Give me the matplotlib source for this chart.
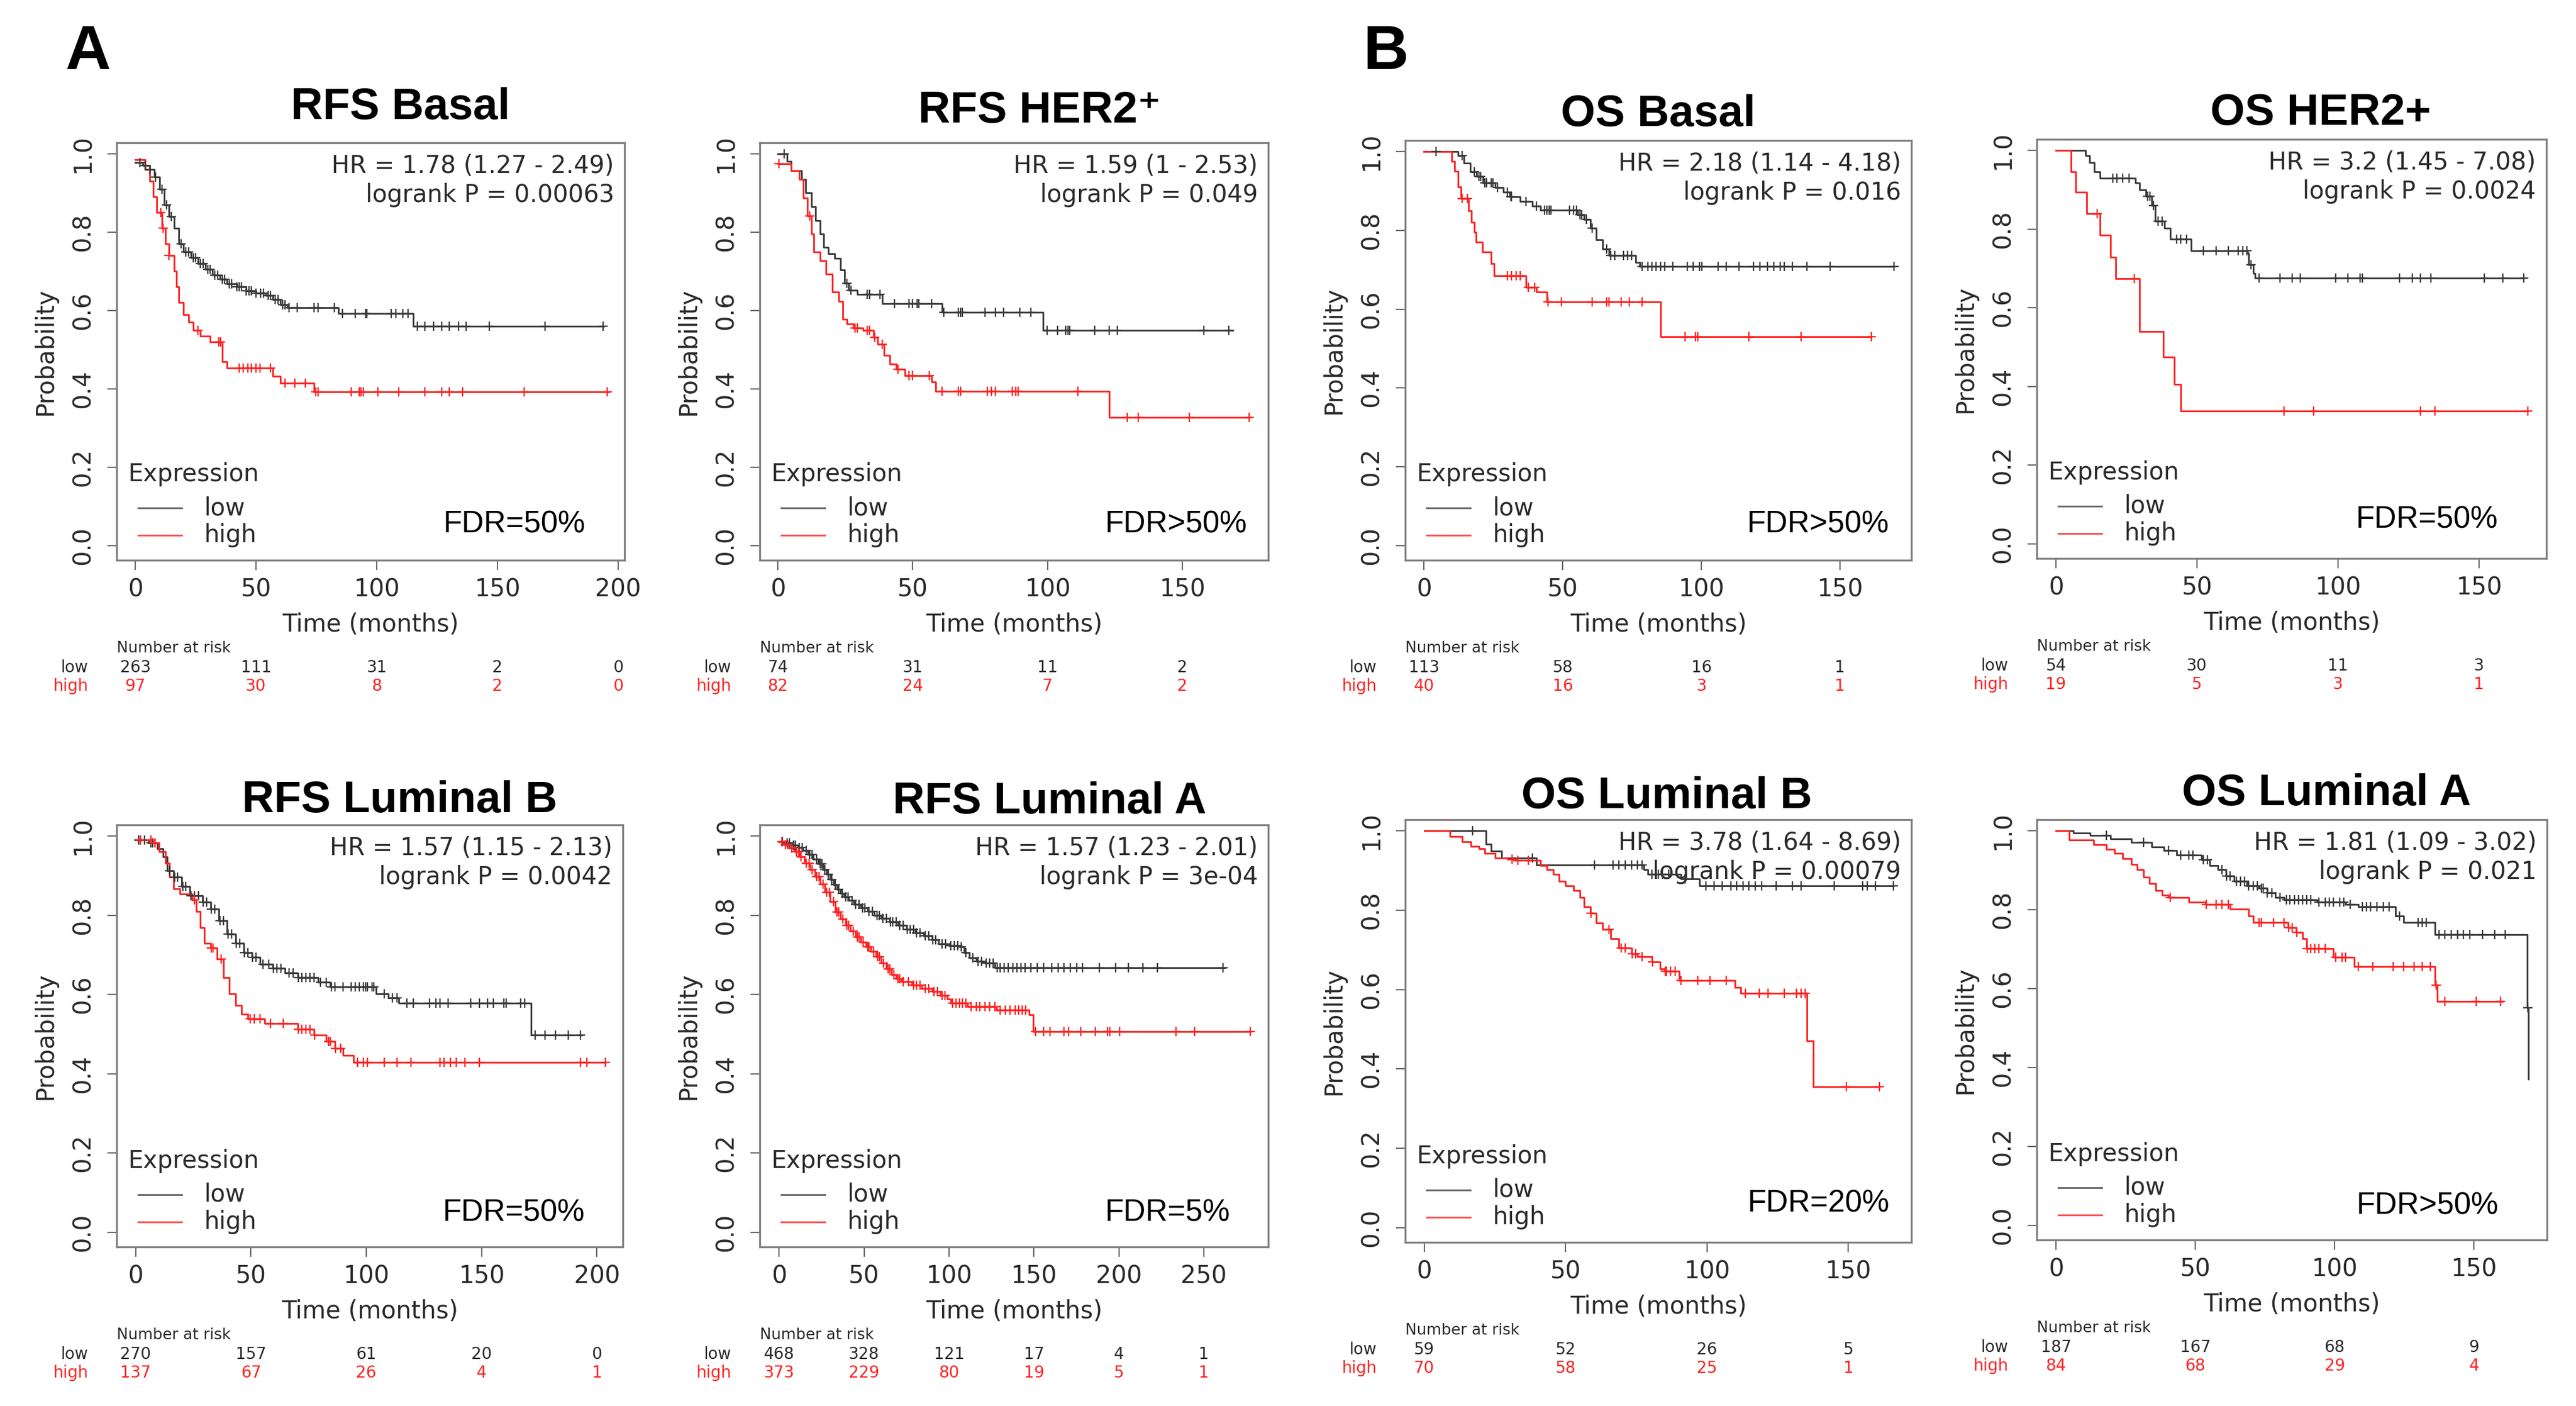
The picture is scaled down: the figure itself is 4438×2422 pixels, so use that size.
import numpy as np
import matplotlib
matplotlib.use("Agg")
import matplotlib.pyplot as plt
from matplotlib.transforms import offset_copy
from matplotlib.lines import Line2D

# ======================= DATA =======================
# ---- Panel 1: RFS Basal ----
RFS_BASAL_LOW_T = [0, 3, 6, 8, 10, 12, 14, 16, 18, 20, 23, 26, 29, 32, 35, 38, 42, 46, 50, 54, 57, 60, 63, 84, 115]
RFS_BASAL_LOW_S = [0.977, 0.97, 0.96, 0.94, 0.91, 0.87, 0.84, 0.81, 0.77, 0.75, 0.735, 0.72, 0.705, 0.69, 0.68,
                   0.668, 0.66, 0.65, 0.645, 0.638, 0.628, 0.615, 0.607, 0.592, 0.56]
RFS_BASAL_LOW_END = 194
RFS_BASAL_LOW_CENS = [2, 4, 6, 8.5, 11, 13, 15, 19, 21, 22, 24, 25, 27, 28, 30, 31, 33, 34, 36, 37, 39, 40, 42, 43,
                      44, 46, 47, 48, 50, 52, 53, 55, 56, 58, 59, 61, 62, 63.6, 67, 73.9, 75.6, 82.5, 85.9, 91, 95.3,
                      96, 106, 108, 110.7, 113, 116.7, 120, 123.5, 127, 130, 133.8, 137, 146.6, 169.7, 193.7]
RFS_BASAL_HIGH_T = [0, 4, 6, 7.5, 9, 11, 12.5, 14, 16, 17, 18, 20, 22, 24, 27, 31, 36, 38, 57, 60, 74]
RFS_BASAL_HIGH_S = [0.985, 0.96, 0.93, 0.89, 0.85, 0.81, 0.77, 0.74, 0.70, 0.66, 0.62, 0.59, 0.57, 0.55, 0.535,
                    0.52, 0.47, 0.453, 0.432, 0.415, 0.392]
RFS_BASAL_HIGH_END = 196
RFS_BASAL_HIGH_CENS = [10.6, 11.5, 14, 26, 34.6, 35.4, 43, 44.8, 46.5, 48, 50, 51.7, 56, 62, 66, 70.5, 74.8, 75.6,
                       89.3, 92.7, 93.6, 94.4, 100.4, 109, 120, 127, 130, 135.5, 161, 195.4]

# ---- Panel 2: RFS HER2+ ----
RFS_HER2_LOW_T = [0, 3.4, 4.9, 8.7, 10.3, 12.5, 14, 15.6, 17, 18.7, 21, 23.3, 24.8, 26.3, 29.4, 38.6, 60.8, 98.3]
RFS_HER2_LOW_S = [1.0, 0.98, 0.957, 0.934, 0.90, 0.865, 0.83, 0.796, 0.762, 0.745, 0.733, 0.704, 0.67, 0.652,
                  0.641, 0.618, 0.595, 0.549]
RFS_HER2_LOW_END = 168.7
RFS_HER2_LOW_CENS = [2.3, 25.6, 27.1, 33.2, 34, 37.8, 43.2, 48.5, 50, 51.6, 52.3, 57, 61.5, 66.9, 67.7, 68.4, 76.8,
                     80.7, 83.7, 89.8, 93.7, 99.8, 103.6, 106.7, 107.5, 108.2, 117.4, 122.8, 125.8, 158, 167.2]
RFS_HER2_HIGH_T = [0, 4.9, 8, 9.5, 11, 12.5, 13.3, 15.6, 17.9, 20.2, 22.5, 24, 25.6, 27.9, 31.7, 35.5, 37, 39.3,
                   41.6, 43.9, 47, 57, 58.5, 122.8]
RFS_HER2_HIGH_S = [0.975, 0.957, 0.934, 0.888, 0.842, 0.796, 0.75, 0.727, 0.693, 0.647, 0.624, 0.578, 0.566, 0.555,
                   0.549, 0.532, 0.514, 0.486, 0.463, 0.451, 0.434, 0.417, 0.394, 0.327]
RFS_HER2_HIGH_END = 174.8
RFS_HER2_HIGH_CENS = [0.5, 11.8, 28.5, 29.4, 33.2, 34, 35.8, 38.6, 44.5, 48.5, 50, 56.2, 60.8, 66.9, 67.7, 77.6,
                      79.1, 80.7, 86.8, 88.3, 89.1, 111.3, 129.6, 133.5, 152.6, 174.8]

# ---- Panel 3: OS Basal ----
OS_BASAL_LOW_T = [0, 12.2, 14.4, 16.7, 18.9, 21.2, 25.6, 28.6, 30.8, 34.6, 39, 42, 55.4, 57.6, 59.9, 62, 64.4,
                  66.6, 76.3, 77.8]
OS_BASAL_LOW_S = [1.0, 0.989, 0.971, 0.948, 0.937, 0.92, 0.908, 0.897, 0.885, 0.874, 0.862, 0.851, 0.839, 0.828,
                  0.805, 0.776, 0.753, 0.736, 0.719, 0.708]
OS_BASAL_LOW_END = 169.4
OS_BASAL_LOW_CENS = [4.3, 13.7, 18.2, 19.7, 20.4, 21.9, 22.6, 24.1, 24.9, 26.4, 30.1, 31.2, 31.6, 36.8, 40.5, 43.5,
                     44.2, 45, 45.7, 52.4, 53.9, 55.0, 56.2, 56.9, 58.4, 60.6, 65.8, 67.3, 68.8, 71.8, 73.3, 74.8,
                     78.5, 80.7, 82.2, 83.7, 85.2, 86.7, 89.7, 94.9, 97.1, 99.4, 100.1, 106.1, 109, 113.5, 118.7,
                     121, 123.9, 126.2, 128.4, 129.9, 132.9, 138.1, 146.3, 169.4]
OS_BASAL_HIGH_T = [0, 10, 11, 12.2, 13.2, 16, 17, 18.2, 18.8, 21, 24.2, 25.3, 36.8, 40.5, 44.2, 85.2]
OS_BASAL_HIGH_S = [1.0, 0.975, 0.95, 0.91, 0.88, 0.85, 0.82, 0.795, 0.77, 0.745, 0.715, 0.685, 0.656, 0.643,
                   0.618, 0.53]
OS_BASAL_HIGH_END = 161.2
OS_BASAL_HIGH_CENS = [13.7, 15.5, 30.1, 31.6, 33.1, 34.6, 37.5, 39.8, 44.7, 49.5, 60.6, 65.8, 66.6, 71, 74, 78.5,
                      94.1, 97.9, 98.6, 117.2, 135.9, 161.2]

# ---- Panel 4: OS HER2+ ----
OS_HER2_LOW_T = [0, 10.5, 12, 13.5, 15.7, 28.1, 29.6, 31.8, 34, 35.2, 38.4, 40.6, 47.9, 67.9, 68.4, 69.9, 70.6]
OS_HER2_LOW_S = [1.0, 0.986, 0.969, 0.946, 0.929, 0.917, 0.9, 0.883, 0.86, 0.82, 0.802, 0.774, 0.745, 0.739,
                 0.71, 0.687, 0.676]
OS_HER2_LOW_END = 165.8
OS_HER2_LOW_CENS = [20.1, 21.5, 23.7, 25.9, 32.5, 33.3, 34.5, 36.2, 37.6, 42.8, 44.2, 46.4, 52.3, 56.7, 61.1, 64.7,
                    66.2, 67.7, 69.1, 72.1, 79.4, 83.8, 86.7, 99.2, 103.6, 107.9, 108.7, 121.9, 126.3, 129.2, 132.9,
                    151.9, 158.5, 165.8]
OS_HER2_HIGH_T = [0, 5.4, 6.9, 10.8, 15.7, 19.3, 21.1, 29.6, 38.1, 42, 44.2]
OS_HER2_HIGH_S = [1.0, 0.946, 0.894, 0.839, 0.785, 0.728, 0.674, 0.54, 0.475, 0.406, 0.337]
OS_HER2_HIGH_END = 167.3
OS_HER2_HIGH_CENS = [14.6, 27.8, 80.9, 91.4, 129.2, 134.3, 167.3]

# ---- Panel 5: RFS Luminal B ----
RFS_LUMB_LOW_T = [0, 5.7, 9.3, 12, 13.8, 16.5, 20, 23.6, 29, 32.6, 36.2, 39.7, 43.3, 46.9, 50.5, 54, 59.4, 64.8,
                  70.2, 79.1, 84.5, 104.2, 109.6, 114, 171.4]
RFS_LUMB_LOW_S = [0.99, 0.983, 0.968, 0.948, 0.913, 0.896, 0.873, 0.85, 0.833, 0.815, 0.787, 0.752, 0.729, 0.706,
                  0.694, 0.677, 0.666, 0.654, 0.642, 0.631, 0.619, 0.602, 0.591, 0.579, 0.498]
RFS_LUMB_LOW_END = 193.7
RFS_LUMB_LOW_CENS = [1.3, 3.9, 6.6, 7.5, 8.4, 14.7, 16.9, 18.3, 20.5, 21.8, 23.9, 25.4, 27.2, 29.4, 30.8, 32.9,
                     34.4, 36.6, 38, 40.1, 41.5, 43.6, 45.1, 47.2, 48.7, 50.8, 52.3, 55.3, 57.7, 59.8, 61.2, 63, 66.6,
                     68.4, 70.5, 72, 73.8, 75.6, 77.3, 80, 82.7, 84.8, 86.3, 89.9, 93.5, 95.3, 97, 98.8, 99.7, 100.6,
                     102.4, 103.3, 107.8, 111.4, 113.2, 117.6, 120.3, 127.5, 130.2, 132, 135.5, 145.4, 149, 152.6,
                     155.2, 159.7, 160.6, 166.9, 168.7, 173.1, 177.6, 182.1, 187.5, 192.8]
RFS_LUMB_HIGH_T = [0, 7.5, 10.2, 12.9, 14.7, 16.5, 19.2, 24.5, 26.3, 28.1, 29.9, 32.6, 35.3, 38, 40.6, 43.3, 46,
                   48.7, 55.9, 70.2, 77.3, 82.7, 86.3, 89.9, 94.4]
RFS_LUMB_HIGH_S = [0.99, 0.983, 0.96, 0.931, 0.896, 0.867, 0.854, 0.839, 0.81, 0.769, 0.729, 0.717, 0.689, 0.642,
                   0.602, 0.573, 0.55, 0.539, 0.527, 0.512, 0.498, 0.481, 0.464, 0.446, 0.429]
RFS_LUMB_HIGH_END = 203.6
RFS_LUMB_HIGH_CENS = [2.1, 6.6, 8.4, 25.4, 32.9, 33.5, 37.1, 49.6, 51.4, 54, 58.5, 63.9, 70.5, 72, 73.8, 75.6, 77.6,
                      83.6, 84.5, 86.6, 89, 96.1, 98.8, 100.6, 107.8, 113.2, 119.4, 132, 133.8, 136.4, 139.1, 142.7,
                      149, 192.8, 195.5, 203.6]

# ---- Panel 6: RFS Luminal A ----
RFS_LUMA_LOW_T = [0, 4, 8, 11, 14, 17, 20, 23, 26, 28, 30, 32, 34, 36, 38, 41, 44, 48, 52, 56, 60, 65, 70, 75, 80,
                  85, 90, 94, 100, 106, 109, 112, 116, 121, 127]
RFS_LUMA_LOW_S = [0.985, 0.982, 0.977, 0.971, 0.963, 0.953, 0.942, 0.93, 0.915, 0.903, 0.89, 0.877, 0.865, 0.855,
                  0.846, 0.837, 0.828, 0.818, 0.81, 0.8, 0.792, 0.783, 0.774, 0.765, 0.756, 0.748, 0.738, 0.727,
                  0.724, 0.72, 0.706, 0.692, 0.684, 0.679, 0.667]
RFS_LUMA_LOW_END = 262.6
RFS_LUMA_LOW_CENS = [2, 4.5, 6, 8.5, 9.5, 12, 13.5, 16, 18, 19.5, 22, 24, 25, 27, 29, 31, 33, 35, 37, 39, 40.5, 43,
                     45, 47, 49, 50.5, 53, 55, 57.5, 59, 61, 63, 65.5, 67, 69, 71, 73, 75.5, 77, 79, 81, 83, 86, 88,
                     90.5, 92, 96, 98, 101, 103, 105, 107, 110, 114, 117, 119, 122, 124, 126, 128.5, 130.1, 132.5,
                     135, 137.4, 139.8, 142.3, 144.7, 148.3, 152, 155.6, 160.5, 164.2, 167.8, 171.4, 175.1, 178.7,
                     188.5, 198.2, 205.5, 214, 222.5, 261.4]
RFS_LUMA_HIGH_T = [0, 3, 6, 9, 12, 15, 18, 21, 24, 27, 30, 33, 36, 39, 42, 45, 48, 51, 54, 57, 60, 63, 66, 69, 72,
                   78, 84, 90, 95, 99, 101, 111, 128, 147, 149.6]
RFS_LUMA_HIGH_S = [0.985, 0.978, 0.97, 0.96, 0.947, 0.932, 0.915, 0.897, 0.878, 0.858, 0.835, 0.808, 0.79, 0.775,
                   0.76, 0.745, 0.732, 0.72, 0.708, 0.695, 0.68, 0.665, 0.65, 0.64, 0.632, 0.623, 0.615, 0.607,
                   0.598, 0.588, 0.578, 0.57, 0.56, 0.549, 0.506]
RFS_LUMA_HIGH_END = 277.2
RFS_LUMA_HIGH_CENS = [1.5, 3.5, 5, 7.5, 10, 11.5, 13, 16, 17.5, 19.5, 22, 23.5, 26, 28, 29.5, 32, 34, 35, 37.5, 40,
                      41, 43.5, 46, 47, 49.5, 52, 53, 55.5, 58, 59, 61.5, 64, 65, 67.5, 70, 71, 73, 76, 79, 81, 83,
                      86, 88, 91, 93, 96, 97.5, 102, 104, 106, 108, 110, 113, 116, 118, 121, 124, 127, 130, 133, 136,
                      139, 141, 143, 145, 150.8, 155.6, 159.3, 167.8, 170.2, 177.5, 186, 193.3, 194.6, 200.6, 233.5,
                      244.4, 277.2]

# ---- Panel 7: OS Luminal B ----
OS_LUMB_LOW_T = [0, 21.9, 23.7, 27.3, 39.7, 77.7, 79.2, 90.8, 97.4]
OS_LUMB_LOW_S = [1.0, 0.966, 0.949, 0.931, 0.914, 0.902, 0.891, 0.879, 0.861]
OS_LUMB_LOW_END = 166
OS_LUMB_LOW_CENS = [17.1, 38.3, 60.2, 66.7, 68.9, 71.1, 73.3, 75.5, 77, 80.6, 82.8, 84.3, 86.5, 92.3, 99.6, 102.5,
                    105.4, 108.4, 110.6, 112.8, 114.9, 117.1, 119.3, 124.4, 130.3, 133.2, 144.9, 155.1, 156.6,
                    159.5, 166]
OS_LUMB_HIGH_T = [0, 9.1, 13.4, 16.4, 19.3, 21.5, 25.1, 29.5, 31.7, 41.2, 43.4, 45.6, 47.8, 49.9, 52.9, 55.1, 56.5,
                  58.7, 60.9, 63.1, 66, 68.9, 73.3, 75.5, 80.6, 83.5, 85, 90.1, 109.8, 112, 135.4, 137.6]
OS_LUMB_HIGH_S = [1.0, 0.986, 0.972, 0.96, 0.955, 0.943, 0.931, 0.928, 0.925, 0.912, 0.902, 0.891, 0.873, 0.861,
                  0.85, 0.832, 0.809, 0.792, 0.768, 0.751, 0.728, 0.704, 0.69, 0.683, 0.669, 0.652, 0.646, 0.623,
                  0.605, 0.59, 0.471, 0.355]
OS_LUMB_HIGH_END = 161
OS_LUMB_HIGH_CENS = [31, 33.2, 36.8, 58.9, 65.3, 69.7, 71.1, 73.5, 74.8, 77, 80.8, 85.2, 85.7, 87.2, 88.7, 90.8,
                     96.7, 101.1, 106.9, 113.5, 118.6, 121.6, 127.4, 131.7, 133.2, 134.7, 149.3, 161]

# ---- Panel 8: OS Luminal A ----
OS_LUMA_LOW_T = [0, 6.2, 12.2, 19.6, 27, 34.4, 38.8, 43.3, 52.2, 55.1, 58.1, 61.1, 64, 68.5, 72.9, 75.9, 78.8,
                 81.8, 93.7, 104, 108.5, 121.8, 124.8, 135.9, 169.2, 169.5]
OS_LUMA_LOW_S = [1.0, 0.994, 0.988, 0.98, 0.971, 0.959, 0.95, 0.938, 0.926, 0.912, 0.901, 0.886, 0.872, 0.86,
                 0.854, 0.842, 0.831, 0.825, 0.819, 0.813, 0.807, 0.784, 0.767, 0.737, 0.551, 0.37]
OS_LUMA_LOW_END = 169.5
OS_LUMA_LOW_CENS = [18.1, 31.4, 40.3, 44.8, 47.7, 49.2, 52.9, 54.4, 59.6, 61.3, 62.5, 64.8, 66.3, 67.7, 69.2, 70.7,
                    72.2, 73.7, 74.4, 75.9, 77.4, 80.3, 82.6, 84, 85.5, 87, 88.5, 90, 91.4, 94.4, 96.6, 98.1, 99.6,
                    101.8, 103.3, 105.5, 110, 111.5, 112.9, 115.2, 117.4, 119.6, 123.3, 130, 131.5, 132.9, 137.4,
                    139.6, 141.8, 144.1, 146.3, 148.5, 153, 157.4, 161.1, 169.35]
OS_LUMA_HIGH_T = [0, 4.7, 13.6, 18.1, 21, 24, 27, 29.2, 31.4, 33.6, 35.9, 38.1, 40.3, 47.7, 53.7, 62.5, 69.2, 70.7,
                  83.3, 86.3, 88.5, 90, 99.6, 107, 135.9, 136.9]
OS_LUMA_HIGH_S = [1.0, 0.977, 0.965, 0.953, 0.942, 0.93, 0.915, 0.901, 0.883, 0.866, 0.848, 0.837, 0.831, 0.819,
                  0.813, 0.802, 0.784, 0.767, 0.755, 0.743, 0.726, 0.702, 0.679, 0.656, 0.609, 0.568]
OS_LUMA_HIGH_END = 160.4
OS_LUMA_HIGH_CENS = [41.1, 53.9, 57.4, 59.6, 61.8, 72.9, 73.7, 78.1, 81.8, 83.5, 84.8, 86.5, 90.2, 91.4, 92.9, 94.4,
                     96.6, 100.3, 102.6, 104, 108.5, 113.7, 121.1, 124.8, 128.5, 131.5, 134.4, 136.4, 139.6, 150.7,
                     159.6]

# ---- Texts / number at risk ----
TITLES = ["RFS Basal", "RFS HER2\u207a", "OS Basal", "OS HER2+",
          "RFS Luminal B", "RFS Luminal A", "OS Luminal B", "OS Luminal A"]
HR_TEXT = ["HR = 1.78 (1.27 - 2.49)", "HR = 1.59 (1 - 2.53)", "HR = 2.18 (1.14 - 4.18)", "HR = 3.2 (1.45 - 7.08)",
           "HR = 1.57 (1.15 - 2.13)", "HR = 1.57 (1.23 - 2.01)", "HR = 3.78 (1.64 - 8.69)", "HR = 1.81 (1.09 - 3.02)"]
P_TEXT = ["logrank P = 0.00063", "logrank P = 0.049", "logrank P = 0.016", "logrank P = 0.0024",
          "logrank P = 0.0042", "logrank P = 3e-04", "logrank P = 0.00079", "logrank P = 0.021"]
FDR_TEXT = ["FDR=50%", "FDR>50%", "FDR>50%", "FDR=50%", "FDR=50%", "FDR=5%", "FDR=20%", "FDR>50%"]
X_TICKS = [[0, 50, 100, 150, 200], [0, 50, 100, 150], [0, 50, 100, 150], [0, 50, 100, 150],
           [0, 50, 100, 150, 200], [0, 50, 100, 150, 200, 250], [0, 50, 100, 150], [0, 50, 100, 150]]
RISK_LOW = [[263, 111, 31, 2, 0], [74, 31, 11, 2], [113, 58, 16, 1], [54, 30, 11, 3],
            [270, 157, 61, 20, 0], [468, 328, 121, 17, 4, 1], [59, 52, 26, 5], [187, 167, 68, 9]]
RISK_HIGH = [[97, 30, 8, 2, 0], [82, 24, 7, 2], [40, 16, 3, 1], [19, 5, 3, 1],
             [137, 67, 26, 4, 1], [373, 229, 80, 19, 5, 1], [70, 58, 25, 1], [84, 68, 29, 4]]

CURVES = [
    (RFS_BASAL_LOW_T, RFS_BASAL_LOW_S, RFS_BASAL_LOW_END, RFS_BASAL_LOW_CENS,
     RFS_BASAL_HIGH_T, RFS_BASAL_HIGH_S, RFS_BASAL_HIGH_END, RFS_BASAL_HIGH_CENS),
    (RFS_HER2_LOW_T, RFS_HER2_LOW_S, RFS_HER2_LOW_END, RFS_HER2_LOW_CENS,
     RFS_HER2_HIGH_T, RFS_HER2_HIGH_S, RFS_HER2_HIGH_END, RFS_HER2_HIGH_CENS),
    (OS_BASAL_LOW_T, OS_BASAL_LOW_S, OS_BASAL_LOW_END, OS_BASAL_LOW_CENS,
     OS_BASAL_HIGH_T, OS_BASAL_HIGH_S, OS_BASAL_HIGH_END, OS_BASAL_HIGH_CENS),
    (OS_HER2_LOW_T, OS_HER2_LOW_S, OS_HER2_LOW_END, OS_HER2_LOW_CENS,
     OS_HER2_HIGH_T, OS_HER2_HIGH_S, OS_HER2_HIGH_END, OS_HER2_HIGH_CENS),
    (RFS_LUMB_LOW_T, RFS_LUMB_LOW_S, RFS_LUMB_LOW_END, RFS_LUMB_LOW_CENS,
     RFS_LUMB_HIGH_T, RFS_LUMB_HIGH_S, RFS_LUMB_HIGH_END, RFS_LUMB_HIGH_CENS),
    (RFS_LUMA_LOW_T, RFS_LUMA_LOW_S, RFS_LUMA_LOW_END, RFS_LUMA_LOW_CENS,
     RFS_LUMA_HIGH_T, RFS_LUMA_HIGH_S, RFS_LUMA_HIGH_END, RFS_LUMA_HIGH_CENS),
    (OS_LUMB_LOW_T, OS_LUMB_LOW_S, OS_LUMB_LOW_END, OS_LUMB_LOW_CENS,
     OS_LUMB_HIGH_T, OS_LUMB_HIGH_S, OS_LUMB_HIGH_END, OS_LUMB_HIGH_CENS),
    (OS_LUMA_LOW_T, OS_LUMA_LOW_S, OS_LUMA_LOW_END, OS_LUMA_LOW_CENS,
     OS_LUMA_HIGH_T, OS_LUMA_HIGH_S, OS_LUMA_HIGH_END, OS_LUMA_HIGH_CENS),
]

# ======================= LAYOUT (pixels) =======================
W, H, DPI = 4438, 2422, 100
# axes boxes: left, top, right, bottom
BOXES = [(201, 246, 1076, 965), (1309, 246, 2185, 965), (2421, 242, 3293, 965), (3509, 240, 4387, 962),
         (201, 1421, 1073, 2148), (1309, 1421, 2185, 2148), (2421, 1412, 3293, 2140), (3509, 1412, 4388, 2136)]
XLIMS = [(-7.7, 202.6), (-6.7, 181.8), (-6.8, 175.7), (-6.8, 173.9),
         (-8.2, 211.2), (-11.4, 287.9), (-6.7, 172.3), (-6.9, 176.2)]
YLIM = (-0.037, 1.028)
TITLE_POS = [(690, 185), (1791, 192), (2857, 198), (3998, 196),
             (689, 1379), (1808, 1382), (2871, 1372), (4008, 1368)]
# FDR: x as axes fraction, y as pixels above the bottom spine
FDR_POS = [(0.783, 61), (0.819, 61), (0.816, 61), (0.766, 67),
           (0.784, 59), (0.802, 59), (0.817, 67), (0.766, 59)]

LOW_C = '#3a3a3a'
HIGH_C = '#ff2222'
TXT_C = '#2a2a2a'
R_FONT = ['DejaVu Sans']
ARIAL = ['Liberation Sans', 'DejaVu Sans']
FS = 30

fig = plt.figure(figsize=(W / DPI, H / DPI), dpi=DPI)
fig.patch.set_facecolor('white')


def km(ax, t, s, end, cens, color):
    t = np.asarray(t, float)
    s = np.asarray(s, float)
    tt = np.append(t, end)
    ss = np.append(s, s[-1])
    ax.step(tt, ss, where='post', color=color, lw=2.1, zorder=3)
    c = np.asarray(cens, float)
    idx = np.clip(np.searchsorted(t, c, side='right') - 1, 0, None)
    ax.plot(c, s[idx], linestyle='none', marker='+', ms=12, mew=1.7, color=color, zorder=4)


for i, (l, t, r, b) in enumerate(BOXES):
    wpx, hpx = r - l, b - t
    ax = fig.add_axes([l / W, 1 - b / H, wpx / W, hpx / H])
    lt, ls, le, lc, ht, hs, he, hc = CURVES[i]
    km(ax, lt, ls, le, lc, LOW_C)
    km(ax, ht, hs, he, hc, HIGH_C)

    ax.set_xlim(*XLIMS[i])
    ax.set_ylim(*YLIM)
    ax.set_xticks(X_TICKS[i])
    ax.set_xticklabels([str(v) for v in X_TICKS[i]], family=R_FONT)
    yt = [0.0, 0.2, 0.4, 0.6, 0.8, 1.0]
    ax.set_yticks(yt)
    ax.set_yticklabels(['%.1f' % v for v in yt], family=R_FONT)
    for sp in ax.spines.values():
        sp.set_color('#7f7f7f')
        sp.set_linewidth(2.4)
    ax.tick_params(axis='x', direction='out', length=12.5, width=1.6, color='#666666',
                   labelsize=FS, labelcolor=TXT_C, pad=9)
    ax.tick_params(axis='y', direction='out', length=11.5, width=1.6, color='#666666',
                   labelsize=FS, labelcolor=TXT_C, pad=15, labelrotation=90)
    for lbl in ax.get_yticklabels():
        lbl.set_va('center')

    ax.set_xlabel('Time (months)', fontsize=FS, color=TXT_C, family=R_FONT)
    ax.xaxis.set_label_coords(0.5, -111 / hpx)
    ax.xaxis.label.set_va('center')
    ax.set_ylabel('Probability', fontsize=FS, color=TXT_C, family=R_FONT)
    ax.yaxis.set_label_coords(-123 / wpx, 0.5)
    ax.yaxis.label.set_va('center')

    # HR / logrank text
    ax.text(1 - 18 / wpx, 1 - 40 / hpx, HR_TEXT[i], transform=ax.transAxes, ha='right', va='center',
            fontsize=FS, color=TXT_C, family=R_FONT)
    ax.text(1 - 18 / wpx, 1 - 90 / hpx, P_TEXT[i], transform=ax.transAxes, ha='right', va='center',
            fontsize=FS, color=TXT_C, family=R_FONT)

    # legend
    ax.text(20 / wpx, 148 / hpx, 'Expression', transform=ax.transAxes, ha='left', va='center',
            fontsize=FS, color=TXT_C, family=R_FONT)
    for j, (lab, col) in enumerate([('low', '#6a6a6a'), ('high', '#ff5050')]):
        yy = (90 - 47 * j) / hpx
        ax.add_line(Line2D([37 / wpx, 112 / wpx], [yy, yy], transform=ax.transAxes, color=col, lw=2.2))
        ax.text(150 / wpx, yy, lab, transform=ax.transAxes, ha='left', va='center',
                fontsize=FS, color=TXT_C, family=R_FONT)

    # FDR
    fx, fy = FDR_POS[i]
    ax.text(fx, fy / hpx, FDR_TEXT[i], transform=ax.transAxes, ha='center', va='center',
            fontsize=38, color='black', family=ARIAL)

    # number at risk
    tr_head = offset_copy(ax.transAxes, fig=fig, x=0, y=-152, units='dots')
    ax.text(0, 0, 'Number at risk', transform=tr_head, ha='left', va='center', fontsize=19,
            color=TXT_C, family=R_FONT, clip_on=False)
    for j, (lab, col, vals) in enumerate([('low', TXT_C, RISK_LOW[i]), ('high', HIGH_C, RISK_HIGH[i])]):
        dy = -185 - 32 * j
        tr_lab = offset_copy(ax.transAxes, fig=fig, x=-49, y=dy, units='dots')
        ax.text(0, 0, lab, transform=tr_lab, ha='right', va='center', fontsize=20, color=col,
                family=R_FONT, clip_on=False)
        tr_num = offset_copy(ax.get_xaxis_transform(), fig=fig, x=0, y=dy, units='dots')
        for xv, n in zip(X_TICKS[i], vals):
            ax.text(xv, 0, str(n), transform=tr_num, ha='center', va='center', fontsize=20, color=col,
                    family=R_FONT, clip_on=False)

    # title
    tx, ty = TITLE_POS[i]
    fig.text(tx / W, 1 - ty / H, TITLES[i], ha='center', va='center', fontsize=55, fontweight='bold',
             family=ARIAL, color='black')

fig.text(151 / W, 1 - 91 / H, 'A', ha='center', va='center', fontsize=78, fontweight='bold', family=ARIAL)
fig.text(2388 / W, 1 - 91 / H, 'B', ha='center', va='center', fontsize=78, fontweight='bold', family=ARIAL)

fig.savefig('out.png', dpi=DPI, facecolor='white')
